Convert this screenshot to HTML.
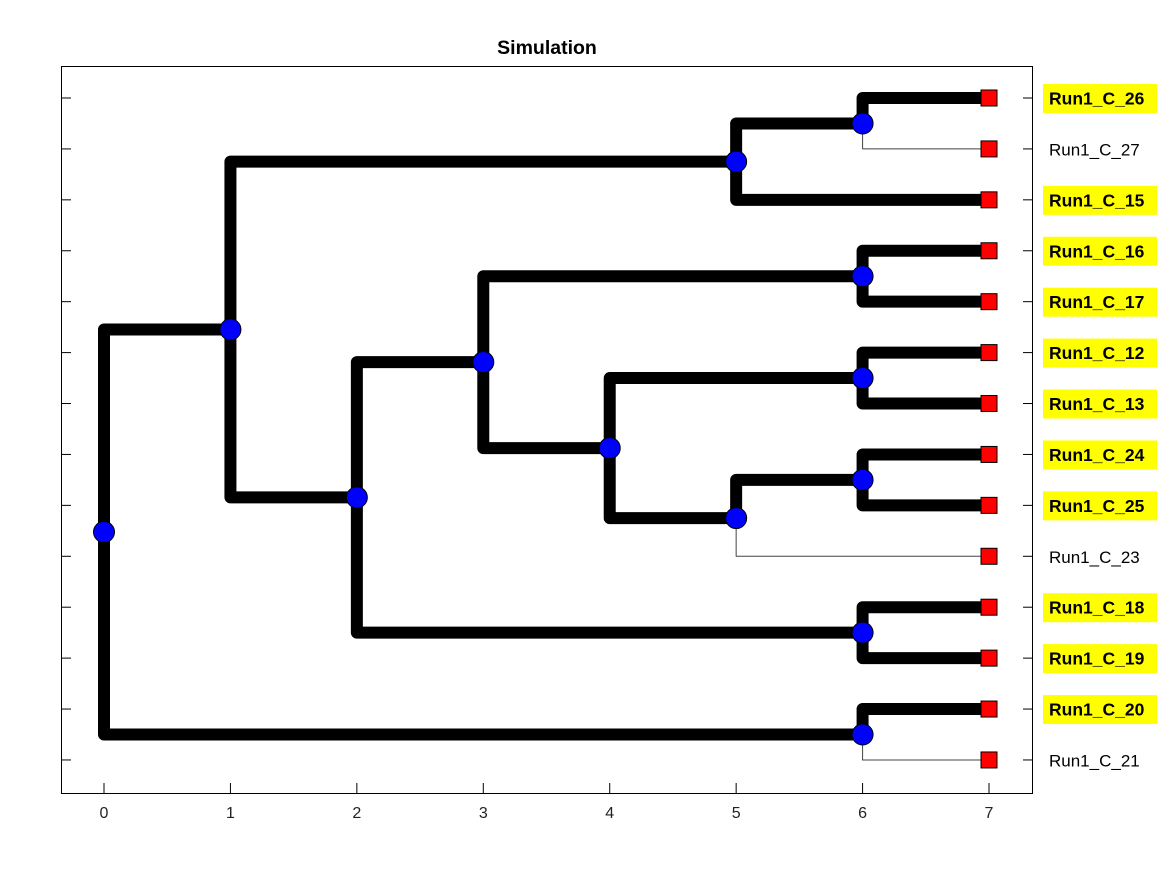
<!DOCTYPE html>
<html><head><meta charset="utf-8"><style>
body{margin:0;background:#fff;}
svg{display:block;font-family:"Liberation Sans",sans-serif;}
</style></head><body>
<svg id="chart" width="1167" height="875">
<rect x="0" y="0" width="1167" height="875" fill="#fff"/>
<text x="547" y="54" text-anchor="middle" font-size="19.5" font-weight="bold">Simulation</text>
<rect x="61.5" y="66.5" width="971" height="727" fill="none" stroke="#000" stroke-width="1"/>
<g id="g"></g>
</svg>
<script>
const leafNames=["Run1_C_26","Run1_C_27","Run1_C_15","Run1_C_16","Run1_C_17","Run1_C_12","Run1_C_13","Run1_C_24","Run1_C_25","Run1_C_23","Run1_C_18","Run1_C_19","Run1_C_20","Run1_C_21"];
const leafHighlighted=[1,0,1,1,1,1,1,1,1,0,1,1,1,0];
const nodeNames=["A","B","C","D","E","F","G","H","I","J","K","M","R"];
const nodeDepths=[6,5,6,6,6,5,4,3,6,2,1,6,0];
const nodeChildren=[[0,1],["A",2],[3,4],[5,6],[7,8],["E",9],["D","F"],["C","G"],[10,11],["H","I"],["B","J"],[12,13],["K","M"]];
const nodeThin=[[0,1],[0,0],[0,0],[0,0],[0,0],[0,1],[0,0],[0,0],[0,0],[0,0],[0,0],[0,1],[0,0]];
const xTicks=[0,1,2,3,4,5,6,7];
const leafDepth=7;

const NS="http://www.w3.org/2000/svg";
const g=document.getElementById('g');
const X=v=>104+v*126.43;
const Y=i=>98+i*50.92;
function mk(t,a){const e=document.createElementNS(NS,t);for(const k in a)e.setAttribute(k,a[k]);g.appendChild(e);return e;}
const pos={};
for(let i=0;i<leafNames.length;i++)pos[i]={x:leafDepth,y:i};
nodeNames.forEach((n,k)=>{
  const ys=nodeChildren[k].map(c=>pos[c].y);
  pos[n]={x:nodeDepths[k],y:ys.reduce((a,b)=>a+b,0)/ys.length};
});
xTicks.forEach(t=>{
  const l=mk('line',{x1:X(t),x2:X(t),y1:793,y2:783,stroke:'#000','stroke-width':1});
  
  
  const tx=mk('text',{x:X(t),y:818,'text-anchor':'middle','font-size':16,fill:'#222'});
  tx.textContent=t;
  
  
});
leafNames.forEach((nm,i)=>{
  const a=mk('line',{x1:61,x2:71,y1:Y(i),y2:Y(i),stroke:'#000','stroke-width':1});
  
  
  const b=mk('line',{x1:1023,x2:1033,y1:Y(i),y2:Y(i),stroke:'#000','stroke-width':1});
  
  
  if(leafHighlighted[i]){
    const r=mk('rect',{x:1043,y:Y(i)-14,width:114,height:29,fill:'#ffff00'});
    
    
  }
  const t=mk('text',{x:1049,y:Y(i)+6.5,'font-size':leafHighlighted[i]?17.5:17,'font-weight':leafHighlighted[i]?'bold':'normal',fill:'#000'});
  t.textContent=nm;
  
  
});
nodeNames.forEach((n,k)=>{
  const p=pos[n];
  nodeChildren[k].forEach((c,j)=>{
    const q=pos[c];const thin=nodeThin[k][j];
    const e=mk('polyline',{points:`${X(p.x)},${Y(p.y)} ${X(p.x)},${Y(q.y)} ${X(q.x)},${Y(q.y)}`,fill:'none',stroke:thin?'#444':'#000','stroke-width':thin?1:12,'stroke-linejoin':'round'});
    
    
  });
});
leafNames.forEach((nm,i)=>{
  const s=mk('rect',{x:X(leafDepth)-8,y:Y(i)-8,width:16,height:16,fill:'#ff0000',stroke:'#000','stroke-width':1});
  
  
});
nodeNames.forEach(n=>{
  const p=pos[n];
  const c=mk('circle',{cx:X(p.x),cy:Y(p.y),r:10.5,fill:'#0000ff',stroke:'#000','stroke-width':1});
  
  
});
</script>
</body></html>
